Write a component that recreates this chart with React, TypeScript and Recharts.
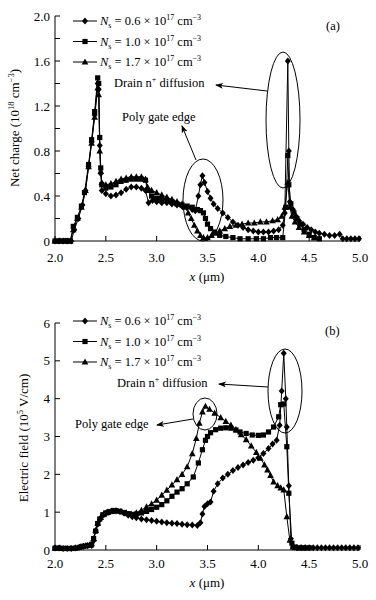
import React from 'react';
import { LineChart, Line, XAxis, YAxis } from 'recharts';

// x positions in µm
const X_TICKS = [2.0, 2.5, 3.0, 3.5, 4.0, 4.5, 5.0];
const CHARGE_TICKS = [0, 0.2, 0.4, 0.6, 0.8, 1.0, 1.2, 1.4, 1.6, 1.8, 2.0];
const FIELD_TICKS = [0, 1, 2, 3, 4, 5, 6];
const DOPING = ['0.6', '1.0', '1.7'];

// (a) net charge, 10^18 cm^-3
const chargeLow: [number, number][] = [
  [2.0, 0], [2.04, 0], [2.08, 0], [2.12, 0], [2.16, 0], [2.19, 0.1], [2.23, 0.2], [2.27, 0.32], [2.3, 0.45],
  [2.33, 0.66], [2.36, 0.88], [2.39, 1.12], [2.42, 1.4], [2.43, 1.35], [2.44, 0.85], [2.45, 0.6], [2.46, 0.45],
  [2.5, 0.42], [2.55, 0.4], [2.6, 0.41], [2.65, 0.43], [2.7, 0.46], [2.75, 0.48], [2.8, 0.48], [2.85, 0.47],
  [2.89, 0.45], [2.92, 0.34], [2.96, 0.36], [3.0, 0.35], [3.05, 0.34], [3.1, 0.34], [3.15, 0.33], [3.2, 0.32],
  [3.25, 0.31], [3.3, 0.3], [3.35, 0.28], [3.38, 0.27], [3.41, 0.4], [3.43, 0.5], [3.45, 0.58], [3.47, 0.52],
  [3.5, 0.44], [3.53, 0.38], [3.56, 0.33], [3.6, 0.29], [3.65, 0.25], [3.7, 0.21], [3.75, 0.17], [3.8, 0.14],
  [3.85, 0.12], [3.9, 0.1], [3.95, 0.09], [4.0, 0.08], [4.05, 0.08], [4.1, 0.08], [4.15, 0.09], [4.2, 0.1],
  [4.24, 0.14], [4.26, 0.25], [4.29, 1.6], [4.3, 0.8], [4.31, 0.35], [4.34, 0.28], [4.37, 0.22], [4.4, 0.18],
  [4.44, 0.15], [4.48, 0.12], [4.52, 0.1], [4.56, 0.08], [4.6, 0.07], [4.65, 0.06], [4.7, 0.05], [4.75, 0.05],
  [4.8, 0.06], [4.83, 0.02], [4.87, 0.02], [4.91, 0.02], [4.95, 0.02], [4.99, 0.02],
];
const chargeMid: [number, number][] = [
  [2.0, 0], [2.03, 0], [2.06, 0], [2.09, 0], [2.12, 0], [2.15, 0], [2.18, 0.13], [2.22, 0.21], [2.26, 0.31],
  [2.29, 0.43], [2.33, 0.68], [2.36, 0.9], [2.39, 1.15], [2.42, 1.45], [2.43, 1.4], [2.44, 0.92], [2.45, 0.65],
  [2.46, 0.5], [2.5, 0.47], [2.55, 0.48], [2.6, 0.5], [2.65, 0.53], [2.7, 0.54], [2.75, 0.55], [2.8, 0.55],
  [2.85, 0.55], [2.89, 0.54], [2.91, 0.45], [2.95, 0.4], [3.0, 0.38], [3.05, 0.37], [3.1, 0.36], [3.15, 0.35],
  [3.2, 0.33], [3.25, 0.32], [3.3, 0.31], [3.35, 0.3], [3.4, 0.28], [3.43, 0.27], [3.46, 0.25], [3.48, 0.2],
  [3.5, 0.15], [3.53, 0.11], [3.57, 0.08], [3.62, 0.05], [3.68, 0.04], [3.75, 0.03], [3.82, 0.02], [3.9, 0.02],
  [3.98, 0.02], [4.05, 0.02], [4.12, 0.03], [4.18, 0.03], [4.24, 0.03], [4.27, 0.3], [4.29, 0.76], [4.3, 0.5],
  [4.32, 0.33], [4.35, 0.25], [4.38, 0.2], [4.41, 0.15], [4.45, 0.1], [4.5, 0.06], [4.55, 0.03], [4.6, 0.02],
];
const chargeHigh: [number, number][] = [
  [2.0, 0], [2.05, 0], [2.1, 0], [2.15, 0], [2.18, 0.1], [2.22, 0.2], [2.26, 0.3], [2.3, 0.45], [2.33, 0.66],
  [2.36, 0.87], [2.39, 1.1], [2.42, 1.36], [2.43, 1.3], [2.44, 0.8], [2.45, 0.62], [2.46, 0.52], [2.5, 0.5],
  [2.55, 0.51], [2.6, 0.53], [2.65, 0.55], [2.7, 0.56], [2.75, 0.57], [2.8, 0.57], [2.85, 0.57], [2.89, 0.55],
  [2.91, 0.48], [2.95, 0.45], [3.0, 0.43], [3.05, 0.41], [3.1, 0.39], [3.15, 0.37], [3.2, 0.35], [3.25, 0.33],
  [3.28, 0.3], [3.31, 0.25], [3.34, 0.2], [3.37, 0.14], [3.4, 0.09], [3.43, 0.05], [3.46, 0.03], [3.5, 0.03],
  [3.54, 0.05], [3.58, 0.07], [3.62, 0.09], [3.67, 0.11], [3.72, 0.13], [3.78, 0.14], [3.84, 0.15], [3.9, 0.16],
  [3.96, 0.16], [4.02, 0.17], [4.08, 0.17], [4.14, 0.18], [4.19, 0.19], [4.23, 0.22], [4.26, 0.3], [4.29, 0.52],
  [4.31, 0.3], [4.33, 0.22], [4.36, 0.17], [4.4, 0.12], [4.45, 0.08], [4.5, 0.05], [4.55, 0.03],
];

// (b) electric field, 10^5 V/cm
const fieldLow: [number, number][] = [
  [2.0, 0.05], [2.04, 0.05], [2.08, 0.04], [2.12, 0.04], [2.16, 0.04], [2.2, 0.05], [2.24, 0.07], [2.28, 0.1],
  [2.32, 0.12], [2.36, 0.12], [2.38, 0.25], [2.4, 0.5], [2.42, 0.68], [2.44, 0.8], [2.47, 0.92], [2.5, 0.97],
  [2.53, 1.0], [2.57, 1.03], [2.6, 1.03], [2.64, 1.01], [2.68, 0.97], [2.72, 0.92], [2.76, 0.88], [2.8, 0.85],
  [2.85, 0.82], [2.9, 0.8], [2.95, 0.78], [3.0, 0.76], [3.05, 0.74], [3.1, 0.72], [3.15, 0.71], [3.2, 0.7],
  [3.25, 0.68], [3.3, 0.67], [3.35, 0.66], [3.4, 0.65], [3.43, 0.72], [3.45, 0.95], [3.47, 1.15], [3.5, 1.22],
  [3.53, 1.27], [3.56, 1.55], [3.6, 1.75], [3.65, 1.9], [3.7, 2.0], [3.75, 2.1], [3.8, 2.18], [3.85, 2.25],
  [3.9, 2.31], [3.95, 2.37], [4.0, 2.44], [4.05, 2.55], [4.1, 2.68], [4.14, 2.8], [4.18, 2.9], [4.21, 3.3],
  [4.23, 4.2], [4.25, 5.2], [4.27, 4.0], [4.28, 3.25], [4.3, 1.7], [4.32, 0.3], [4.34, 0.08], [4.38, 0.06],
  [4.42, 0.06], [4.46, 0.06], [4.5, 0.06], [4.54, 0.06], [4.58, 0.06], [4.62, 0.06], [4.66, 0.06], [4.7, 0.06],
  [4.74, 0.06], [4.78, 0.06], [4.82, 0.06], [4.86, 0.06], [4.9, 0.06], [4.94, 0.06], [4.98, 0.06],
];
const fieldMid: [number, number][] = [
  [2.0, 0.05], [2.04, 0.05], [2.08, 0.04], [2.12, 0.04], [2.16, 0.04], [2.2, 0.05], [2.24, 0.07], [2.28, 0.1],
  [2.32, 0.12], [2.36, 0.15], [2.38, 0.3], [2.4, 0.5], [2.42, 0.7], [2.44, 0.82], [2.47, 0.93], [2.5, 0.98],
  [2.53, 1.01], [2.57, 1.04], [2.6, 1.04], [2.64, 1.02], [2.68, 0.99], [2.72, 0.96], [2.76, 0.94], [2.8, 0.95],
  [2.85, 0.98], [2.9, 1.02], [2.95, 1.07], [3.0, 1.13], [3.05, 1.2], [3.1, 1.3], [3.15, 1.42], [3.2, 1.53],
  [3.25, 1.62], [3.3, 1.75], [3.36, 1.93], [3.41, 2.3], [3.45, 2.65], [3.48, 2.9], [3.5, 3.0], [3.53, 3.1],
  [3.58, 3.18], [3.63, 3.22], [3.68, 3.23], [3.73, 3.22], [3.78, 3.17], [3.82, 3.12], [3.88, 3.08], [3.94, 3.04],
  [4.0, 3.03], [4.05, 3.04], [4.1, 3.12], [4.15, 3.25], [4.2, 3.52], [4.22, 3.84], [4.25, 3.86], [4.28, 2.73],
  [4.3, 1.5], [4.33, 0.18], [4.36, 0.08], [4.4, 0.06], [4.45, 0.06], [4.5, 0.06],
];
const fieldHigh: [number, number][] = [
  [2.0, 0.05], [2.05, 0.05], [2.1, 0.04], [2.15, 0.04], [2.2, 0.05], [2.25, 0.08], [2.3, 0.11], [2.35, 0.13],
  [2.38, 0.3], [2.4, 0.52], [2.42, 0.7], [2.45, 0.86], [2.48, 0.95], [2.52, 1.0], [2.56, 1.03], [2.6, 1.04],
  [2.65, 1.02], [2.7, 0.98], [2.75, 0.95], [2.8, 0.98], [2.85, 1.05], [2.9, 1.14], [2.95, 1.22], [3.0, 1.32],
  [3.05, 1.45], [3.1, 1.58], [3.15, 1.72], [3.2, 1.86], [3.25, 2.0], [3.3, 2.2], [3.35, 2.55], [3.39, 2.95],
  [3.42, 3.35], [3.45, 3.65], [3.48, 3.8], [3.52, 3.72], [3.57, 3.62], [3.63, 3.5], [3.68, 3.4], [3.73, 3.3],
  [3.78, 3.18], [3.83, 3.05], [3.88, 2.92], [3.93, 2.75], [3.98, 2.58], [4.02, 2.43], [4.06, 2.25], [4.09, 2.12],
  [4.12, 1.97], [4.15, 1.8], [4.19, 1.7], [4.22, 1.64], [4.25, 1.59], [4.28, 0.88], [4.31, 0.26], [4.34, 0.08],
  [4.38, 0.06], [4.42, 0.06], [4.46, 0.06],
];

const FONT = "'Liberation Serif', 'Times New Roman', serif";
const toPts = (arr: [number, number][]) => arr.map(([x, y]) => ({ x, y }));

type Shape = 'diamond' | 'square' | 'triangle';
const SHAPES: Shape[] = ['diamond', 'square', 'triangle'];

function marker(shape: Shape, cx: number, cy: number, key?: string) {
  if (shape === 'diamond')
    return <path key={key} d={`M${cx},${cy - 3.5}L${cx + 3},${cy}L${cx},${cy + 3.5}L${cx - 3},${cy}Z`} fill="#000" />;
  if (shape === 'square')
    return <rect key={key} x={cx - 2.6} y={cy - 2.6} width={5.2} height={5.2} fill="#000" />;
  return <path key={key} d={`M${cx},${cy - 3.6}L${cx + 3.3},${cy + 2.6}L${cx - 3.3},${cy + 2.6}Z`} fill="#000" />;
}

const dotFor = (shape: Shape) => (p: any) => {
  if (p.cx == null || p.cy == null) return <g key={`${shape}${p.index}`} />;
  return marker(shape, p.cx, p.cy, `${shape}${p.index}`);
};

function Legend() {
  return (
    <g fontFamily={FONT} fontSize={12.5} fill="#000">
      {DOPING.map((d, i) => {
        const y = 21 + i * 20.5;
        return (
          <g key={d}>
            <line x1={73} x2={97} y1={y} y2={y} stroke="#000" strokeWidth={1} />
            {marker(SHAPES[i], 85, y)}
            <text x={100} y={y + 4}>
              <tspan fontStyle="italic">N</tspan>
              <tspan dy={3} fontSize={8}>s</tspan>
              <tspan dy={-3}>{` = ${d} × 10`}</tspan>
              <tspan dy={-5} fontSize={8}>17</tspan>
              <tspan dy={5}> cm</tspan>
              <tspan dy={-5} fontSize={8}>−3</tspan>
            </text>
          </g>
        );
      })}
    </g>
  );
}

function Arrow({ id, x1, y1, x2, y2 }: { id: string; x1: number; y1: number; x2: number; y2: number }) {
  return <line x1={x1} y1={y1} x2={x2} y2={y2} stroke="#000" strokeWidth={1} markerEnd={`url(#${id})`} />;
}

function ArrowDef({ id }: { id: string }) {
  return (
    <defs>
      <marker id={id} markerWidth={8} markerHeight={6} refX={7} refY={3} orient="auto" markerUnits="userSpaceOnUse">
        <path d="M0,0L8,3L0,6L2,3Z" fill="#000" />
      </marker>
    </defs>
  );
}

function XLabel({ y }: { y: number }) {
  return (
    <text x={207} y={y} textAnchor="middle" fontFamily={FONT} fontSize={13} fill="#000">
      <tspan fontStyle="italic">x</tspan> (μm)
    </text>
  );
}

const axisTick = { fill: '#000', fontSize: 13, fontFamily: FONT };

function Panel({
  series,
  yDomain,
  yTicks,
  yFormat,
  marginTop,
  marginBottom,
  xTickMargin,
  children,
}: {
  series: [number, number][][];
  yDomain: [number, number];
  yTicks: number[];
  yFormat: (v: number) => string;
  marginTop: number;
  marginBottom: number;
  xTickMargin: number;
  children: React.ReactNode;
}) {
  return (
    <div style={{ position: 'relative', width: 376, height: 300 }}>
      <LineChart width={376} height={300} margin={{ top: marginTop, right: 16, bottom: marginBottom, left: 0 }}>
        <XAxis
          type="number"
          dataKey="x"
          domain={[2, 5]}
          ticks={X_TICKS}
          tickFormatter={(v: number) => v.toFixed(1)}
          height={30}
          stroke="#000"
          tick={axisTick}
          tickSize={-5}
          tickMargin={xTickMargin}
        />
        <YAxis
          type="number"
          dataKey="y"
          domain={yDomain}
          ticks={yTicks}
          tickFormatter={yFormat}
          width={55}
          stroke="#000"
          tick={axisTick}
          tickSize={-5}
          tickMargin={10}
          interval={0}
        />
        {series.map((s, i) => (
          <Line
            key={SHAPES[i]}
            data={toPts(s)}
            dataKey="y"
            type="linear"
            stroke="#000"
            strokeWidth={1}
            dot={dotFor(SHAPES[i])}
            activeDot={false}
            isAnimationActive={false}
          />
        ))}
      </LineChart>
      <svg width={376} height={300} style={{ position: 'absolute', left: 0, top: 0, pointerEvents: 'none' }}>
        {children}
      </svg>
    </div>
  );
}

export default function App() {
  return (
    <div style={{ position: 'absolute', left: 0, top: 0, width: 376, height: 600, background: '#fff' }}>
      {/* (a) net charge */}
      <Panel
        series={[chargeLow, chargeMid, chargeHigh]}
        yDomain={[0, 2]}
        yTicks={CHARGE_TICKS}
        yFormat={(v: number) => {
          const k = Math.round(v * 10);
          if (k % 4 !== 0) return '';
          return k === 0 ? '0' : v.toFixed(1);
        }}
        marginTop={16}
        marginBottom={29}
        xTickMargin={17}
      >
        <ArrowDef id="arrA" />
        <Legend />
        <g fontFamily={FONT} fontSize={12.5} fill="#000">
          <text x={326} y={30}>(a)</text>
          <text x={114} y={87}>
            Drain n<tspan dy={-5} fontSize={8}>+</tspan>
            <tspan dy={5}> diffusion</tspan>
          </text>
          <text x={122} y={121}>Poly gate edge</text>
        </g>
        <ellipse cx={283} cy={120} rx={17} ry={68} fill="none" stroke="#000" strokeWidth={1} />
        <ellipse cx={203} cy={200} rx={20} ry={41} fill="none" stroke="#000" strokeWidth={1} />
        <Arrow id="arrA" x1={267} y1={91} x2={216} y2={85} />
        <Arrow id="arrA" x1={196} y1={160} x2={182} y2={126} />
        <text
          transform="translate(19,128) rotate(-90)"
          textAnchor="middle"
          fontFamily={FONT}
          fontSize={13}
          fill="#000"
        >
          Net charge (10<tspan dy={-5} fontSize={8.5}>18</tspan>
          <tspan dy={5}> cm</tspan>
          <tspan dy={-5} fontSize={8.5}>−3</tspan>
          <tspan dy={5}>)</tspan>
        </text>
        <XLabel y={281} />
      </Panel>

      {/* (b) electric field */}
      <Panel
        series={[fieldLow, fieldMid, fieldHigh]}
        yDomain={[0, 6]}
        yTicks={FIELD_TICKS}
        yFormat={(v: number) => String(v)}
        marginTop={23}
        marginBottom={20}
        xTickMargin={14}
      >
        <ArrowDef id="arrB" />
        <Legend />
        <g fontFamily={FONT} fontSize={12.5} fill="#000">
          <text x={325} y={35}>(b)</text>
          <text x={117} y={87}>
            Drain n<tspan dy={-5} fontSize={8}>+</tspan>
            <tspan dy={5}> diffusion</tspan>
          </text>
          <text x={75} y={128}>Poly gate edge</text>
        </g>
        <ellipse cx={285} cy={91} rx={17} ry={42} fill="none" stroke="#000" strokeWidth={1} />
        <ellipse cx={205} cy={114} rx={12} ry={16} fill="none" stroke="#000" strokeWidth={1} />
        <Arrow id="arrB" x1={268} y1={87} x2={219} y2={84} />
        <Arrow id="arrB" x1={193} y1={119} x2={157} y2={125} />
        <text
          transform="translate(28,138) rotate(-90)"
          textAnchor="middle"
          fontFamily={FONT}
          fontSize={13}
          fill="#000"
        >
          Electric field (10<tspan dy={-5} fontSize={8.5}>5</tspan>
          <tspan dy={5}> V/cm)</tspan>
        </text>
        <XLabel y={287} />
      </Panel>
    </div>
  );
}
